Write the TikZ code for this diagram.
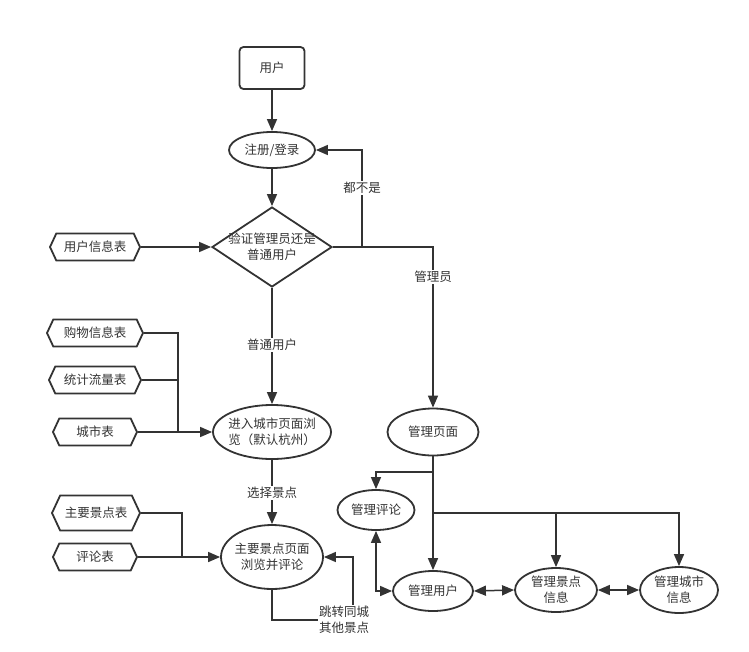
\documentclass[tikz,border=0pt]{standalone}
\usepackage{fontspec}
\setmainfont{Noto Sans CJK SC}
\usetikzlibrary{shapes.geometric,shapes.symbols,arrows.meta}
\definecolor{ink}{HTML}{333333}
\begin{document}
\begin{tikzpicture}[x=1pt,y=-1pt,
  every node/.style={text=ink,font=\fontsize{12.5}{16}\selectfont},
  shp/.style={draw=ink,line width=1.8pt,inner sep=0pt},
  ell/.style={shp,ellipse},
  hexa/.style={shp,signal,signal to=west and east,signal pointer angle=130,minimum height=27pt},
  txt/.style={align=center,inner sep=0pt},
  lbl/.style={fill=white,align=center,inner sep=1.5pt},
  con/.style={draw=ink,line width=1.5pt},
  arr/.style={con,-{Triangle[length=12pt,width=10pt]}},
  darr/.style={con,{Triangle[length=12pt,width=10pt]}-{Triangle[length=12pt,width=10pt]}}]
\useasboundingbox (0,0) rectangle (749,651);

% main column
\node[shp,rectangle,rounded corners=4pt,minimum width=65pt,minimum height=42pt] (user) at (272,68) {用户};
\node[ell,minimum width=86pt,minimum height=36pt] (reg) at (272,150) {注册/登录};
\node[shp,diamond,minimum width=120pt,minimum height=80pt] (check) at (272,247) {};
\node[txt] (checkt) at (272,247) {验证管理员还是\\普通用户};
\node[ell,minimum width=118pt,minimum height=54pt] (city) at (272,432) {};
\node[txt] (cityt) at (272,432) {进入城市页面浏\\览（默认杭州）};
\node[ell,minimum width=102pt,minimum height=64pt] (spot) at (272,557) {};
\node[txt] (spott) at (272,557) {主要景点页面\\浏览并评论};

% tables
\node[hexa,minimum width=90pt] (uinfo) at (95,247) {用户信息表};
\node[hexa,minimum width=96pt] (shop) at (95,333) {购物信息表};
\node[hexa,minimum width=92pt] (stat) at (95,380) {统计流量表};
\node[hexa,minimum width=84pt] (ctab) at (95,432) {城市表};
\node[hexa,minimum width=88pt,minimum height=35pt] (mspot) at (96,513) {主要景点表};
\node[hexa,minimum width=84pt] (comm) at (95,557) {评论表};

% manager side
\node[ell,minimum width=91pt,minimum height=47pt] (mgr) at (433,432) {管理页面};
\node[ell,minimum width=77pt,minimum height=40pt] (mc) at (376,510) {管理评论};
\node[ell,minimum width=80pt,minimum height=40pt] (mu) at (433,591) {管理用户};
\node[ell,minimum width=82pt,minimum height=44pt] (ms) at (556,590) {};
\node[txt] (mst) at (556,590) {管理景点\\信息};
\node[ell,minimum width=78pt,minimum height=46pt] (mci) at (679,590) {};
\node[txt] (mcit) at (679,590) {管理城市\\信息};

% coordinates
\coordinate (j1) at (362,247);
\coordinate (j2) at (433,472);
\coordinate (j3) at (433,513);
\coordinate (t1) at (178,333);
\coordinate (t2) at (182,513);
\coordinate (l1) at (272,620);
\coordinate (l2) at (353,620);

% connectors
\draw[arr] (user) -- (reg);
\draw[arr] (reg) -- (check);
\draw[arr] (check.east) -| (mgr.north);
\draw[arr] (j1) |- (reg.east);
\draw[arr] (uinfo.east) -- (check.west);
\draw[arr] (check.south) -- (city.north);
\draw[con] (shop.east) -- (t1) -- (t1 |- ctab.east);
\draw[con] (stat.east) -- (t1 |- stat.east);
\draw[arr] (ctab.east) -- (city.west);
\draw[arr] (city.south) -- (spot.north);
\draw[con] (mspot.east) -- (t2) -- (t2 |- comm.east);
\draw[arr] (comm.east) -- (spot.west);
\draw[arr] (spot.south) -- (l1) -- (l2) |- (spot.east);
\draw[arr] (mgr.south) -- (mu.north);
\draw[arr] (j2) -| (mc.north);
\draw[arr] (j3) -| (ms.north);
\draw[arr] (j3) -| (mci.north);
\draw[darr] (mu.east) -- (ms.west);
\draw[darr] (ms.east) -- (mci.west);
\draw[darr] (mu.west) -| (mc.south);

% labels
\node[lbl] (lb1) at (362,188) {都不是};
\node[lbl] (lb2) at (433,277) {管理员};
\node[lbl] (lb3) at (272,345) {普通用户};
\node[lbl] (lb4) at (272,493) {选择景点};
\node[lbl] (lb5) at (344,620) {跳转同城\\其他景点};
\end{tikzpicture}
\end{document}
